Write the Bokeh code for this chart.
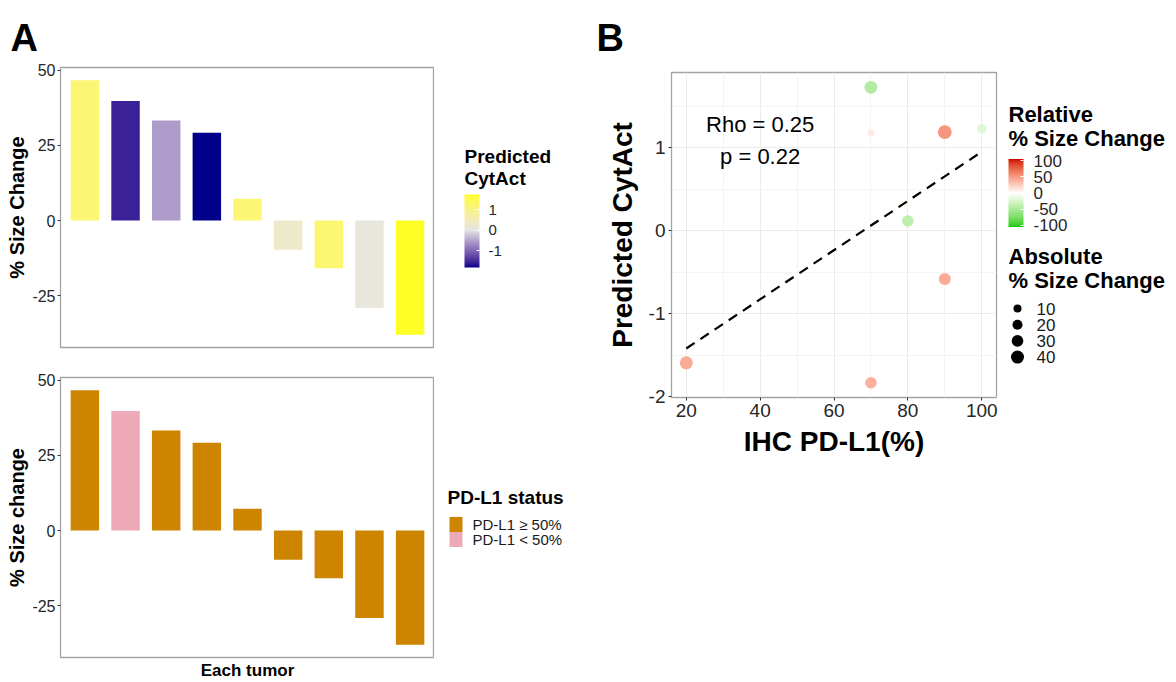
import numpy as np
from bokeh.plotting import figure
from bokeh.models import (Range1d, FixedTicker, LinearColorMapper, ColorBar, Label,
                          ColumnDataSource, AllLabels)
from bokeh.transform import factor_cmap
from bokeh.layouts import row, column
from bokeh.embed import file_html
from bokeh.resources import INLINE
from bokeh.core.properties import value

# ---------------- data (one entry per tumor, waterfall order) ----------------
tumor_index = [1, 2, 3, 4, 5, 6, 7, 8, 9]
size_change = [46.7, 39.8, 33.3, 29.2, 7.3, -9.7, -15.9, -29.1, -38.0]
predicted_cytact = [1.19, -1.59, -0.58, -1.83, 1.18, 0.31, 1.23, 0.12, 1.73]
ihc_pdl1 = [90, 20, 90, 70, 70, 80, 100, 80, 70]
relative_size_change = [52, 42, 42, 40, 10, -5, -21, -40, -46]
status_levels = ["PD-L1 \u2265 50%", "PD-L1 < 50%"]
status_colors = ["#CD8500", "#EEA9B8"]

pct_ticks = [-25, 0, 25, 50]
cytact_legend_ticks = [-1, 0, 1]
pdl1_ticks = [20, 40, 60, 80, 100]
pdl1_minor = [30, 50, 70, 90]
cytB_ticks = [-2, -1, 0, 1]
cytB_minor = [-1.5, -0.5, 0.5, 1.5]
rel_ticks = [-100, -50, 0, 50, 100]
rel_limit = 106
abs_size_breaks = [10, 20, 30, 40]
rho_text = "Rho = 0.25"
p_text = "p = 0.22"
panel_tags = ["A", "B"]

FONT = "Liberation Sans"
HEAD = 62  # height of the strip holding the panel tags


def plain_minus(ticks):
    return {t: str(t) for t in ticks}


# ---------------- colour helpers (Lab interpolation like ggplot) -------------
def _hex2rgb(h):
    h = h.lstrip("#")
    return [int(h[i:i + 2], 16) / 255 for i in (0, 2, 4)]


def _to_lab(h):
    rgb = [c / 12.92 if c <= 0.04045 else ((c + 0.055) / 1.055) ** 2.4 for c in _hex2rgb(h)]
    r, g, b = rgb
    X = (0.4124 * r + 0.3576 * g + 0.1805 * b) / 0.95047
    Y = 0.2126 * r + 0.7152 * g + 0.0722 * b
    Z = (0.0193 * r + 0.1192 * g + 0.9505 * b) / 1.08883
    f = lambda t: t ** (1 / 3) if t > 0.008856 else 7.787 * t + 16 / 116
    return (116 * f(Y) - 16, 500 * (f(X) - f(Y)), 200 * (f(Y) - f(Z)))


def _from_lab(L, a, b):
    fy = (L + 16) / 116
    fx = fy + a / 500
    fz = fy - b / 200
    inv = lambda t: t ** 3 if t ** 3 > 0.008856 else (t - 16 / 116) / 7.787
    X, Y, Z = inv(fx) * 0.95047, inv(fy), inv(fz) * 1.08883
    r = 3.2406 * X - 1.5372 * Y - 0.4986 * Z
    g = -0.9689 * X + 1.8758 * Y + 0.0415 * Z
    bb = 0.0557 * X - 0.2040 * Y + 1.0570 * Z
    out = []
    for c in (r, g, bb):
        c = 12.92 * c if c <= 0.0031308 else 1.055 * c ** (1 / 2.4) - 0.055
        out.append(int(round(min(max(c, 0), 1) * 255)))
    return "#%02x%02x%02x" % tuple(out)


def gradient2(low, mid, high, n=255):
    lo, mi, hi = _to_lab(low), _to_lab(mid), _to_lab(high)
    pal = []
    for t in np.linspace(-1, 1, n):
        a, b = (mi, lo) if t < 0 else (mi, hi)
        s = abs(t)
        pal.append(_from_lab(*[a[k] + (b[k] - a[k]) * s for k in range(3)]))
    return pal


cyt_max = max(abs(v) for v in predicted_cytact)
mapperA = LinearColorMapper(palette=gradient2("#00008B", "#E5E5E5", "#FFFF00"),
                            low=-cyt_max, high=cyt_max)
mapperB = LinearColorMapper(palette=gradient2("#00CD00", "#FFFFFF", "#CD0000"),
                            low=-rel_limit, high=rel_limit)

abs_change = [abs(v) for v in size_change]
s_lo, s_hi = np.sqrt(min(abs_change)), np.sqrt(max(abs_change))


def size_px(v):
    return 7.3 + (np.sqrt(v) - s_lo) / (s_hi - s_lo) * 6.5


status = [status_levels[0] if v >= 50 else status_levels[1] for v in ihc_pdl1]

src = ColumnDataSource(dict(
    idx=tumor_index, change=size_change, cyt=predicted_cytact, pdl1=ihc_pdl1,
    rel=relative_size_change, status=status, sz=[size_px(v) for v in abs_change]))


def txt(f, x, y, s, size, bold=False, color="#1a1a1a", baseline="middle"):
    f.text(x=[x], y=[y], text=[s], text_font=value(FONT), text_font_size=size,
           text_font_style=("bold" if bold else "normal"), text_color=color,
           text_baseline=baseline, text_align="left")


def blank_fig(w, h, xr, yr, top=0, bottom=0):
    # figure whose data units equal page pixels (used for legends / tags)
    f = figure(width=w, height=h, x_range=Range1d(*xr), y_range=Range1d(*yr),
               x_axis_location=None, y_axis_location=None,
               min_border_left=0, min_border_right=0, min_border_top=top,
               min_border_bottom=bottom, toolbar_location=None, output_backend="svg")
    f.grid.visible = False
    f.outline_line_color = None
    return f


# ---------------- header with panel tags ---------------------------------------
head = blank_fig(1176, HEAD, (0, 1176), (HEAD, 0))
txt(head, 10, 37.5, panel_tags[0], "38px", True, "black", "alphabetic")
txt(head, 596, 37.5, panel_tags[1], "38px", True, "black", "alphabetic")


# ---------------- panel A ------------------------------------------------------
def bar_fig(height, top, bottom, xaxis):
    lo = min(min(size_change), 0)
    hi = max(max(size_change), 0)
    pad = 0.05 * (hi - lo)
    p = figure(width=434, height=height, x_range=Range1d(0.4, 9.6),
               y_range=Range1d(lo - pad, hi + pad),
               x_axis_location=("below" if xaxis else None),
               min_border_left=60, min_border_right=0, min_border_top=top,
               min_border_bottom=bottom, toolbar_location=None, output_backend="svg")
    p.xgrid.visible = False
    p.ygrid.visible = False
    p.outline_line_color = "#A3A3A3"
    p.outline_line_width = 1.3
    ax = p.yaxis[0]
    ax.ticker = FixedTicker(ticks=pct_ticks)
    ax.major_label_overrides = plain_minus(pct_ticks)
    ax.axis_line_color = None
    ax.major_tick_out = 3
    ax.major_tick_in = 0
    ax.minor_tick_out = 0
    ax.minor_tick_in = 0
    ax.major_tick_line_color = "#333333"
    ax.major_label_text_font = FONT
    ax.major_label_text_font_size = "16px"
    ax.major_label_text_color = "#262626"
    ax.major_label_standoff = 2
    ax.axis_label_text_font = FONT
    ax.axis_label_text_font_style = "bold"
    ax.axis_label_text_font_size = "20px"
    ax.axis_label_text_color = "black"
    ax.axis_label_standoff = 1
    return p


pA1 = bar_fig(360 - HEAD, 67 - HEAD, 13, False)
pA1.yaxis.axis_label = "% Size Change"
pA1.vbar(x="idx", top="change", width=0.7, source=src,
         fill_color={"field": "cyt", "transform": mapperA}, line_color=None)

pA2 = bar_fig(322, 17, 25, True)
pA2.yaxis.axis_label = "% Size change"
xa = pA2.xaxis[0]
xa.ticker = FixedTicker(ticks=[])
xa.major_label_text_font_size = "0px"
xa.major_tick_out = 0
xa.minor_tick_out = 0
xa.axis_line_color = None
xa.major_label_standoff = 0
xa.axis_label = "Each tumor"
xa.axis_label_text_font = FONT
xa.axis_label_text_font_style = "bold"
xa.axis_label_text_font_size = "17px"
xa.axis_label_text_color = "black"
xa.axis_label_standoff = 3
pA2.vbar(x="idx", top="change", width=0.7, source=src,
         fill_color=factor_cmap("status", palette=status_colors, factors=status_levels),
         line_color=None)

# legend for the top bar chart (page coordinates; frame = 67..347)
legA1 = blank_fig(156, 360 - HEAD, (434, 590), (347, 67), top=67 - HEAD, bottom=13)
txt(legA1, 464, 156, "Predicted", "19px", True, "black")
txt(legA1, 464, 178, "CytAct", "19px", True, "black")
cbA = ColorBar(color_mapper=mapperA, orientation="vertical", width=15, height=73,
               location=(30, 347 - 267), padding=0,
               display_low=min(predicted_cytact), display_high=max(predicted_cytact),
               ticker=FixedTicker(ticks=cytact_legend_ticks),
               major_label_overrides=plain_minus(cytact_legend_ticks),
               major_label_policy=AllLabels(),
               major_label_text_font=FONT, major_label_text_font_size="15px",
               major_label_text_color="#262626", label_standoff=9,
               major_tick_line_color="white", major_tick_in=3, major_tick_out=0,
               bar_line_color=None, border_line_color=None, background_fill_color=None)
legA1.add_layout(cbA, "center")

# legend for the bottom bar chart (page coordinates; frame = 377..657)
legA2 = blank_fig(156, 322, (434, 590), (657, 377), top=17, bottom=25)
txt(legA2, 447, 497, "PD-L1 status", "19px", True, "black")
for k, (lab, col) in enumerate(zip(status_levels, status_colors)):
    legA2.quad(left=[449], right=[462], top=[516.5 + 15 * k], bottom=[531.5 + 15 * k],
               fill_color=col, line_color=None)
    txt(legA2, 472, 524 + 15 * k, lab, "15px", False, "#1a1a1a")

# ---------------- panel B ------------------------------------------------------
xlo, xhi = min(ihc_pdl1), max(ihc_pdl1)
ylo, yhi = min(predicted_cytact), max(predicted_cytact)
xp, yp = 0.05 * (xhi - xlo), 0.05 * (yhi - ylo)
pB = figure(width=410, height=682 - HEAD, x_range=Range1d(xlo - xp, xhi + xp),
            y_range=Range1d(ylo - yp, yhi + yp),
            min_border_left=81, min_border_right=4, min_border_top=72 - HEAD,
            min_border_bottom=285, toolbar_location=None, output_backend="svg")
pB.outline_line_color = "#A3A3A3"
pB.outline_line_width = 1.3
pB.xaxis.ticker = FixedTicker(ticks=pdl1_ticks, minor_ticks=pdl1_minor)
pB.yaxis.ticker = FixedTicker(ticks=cytB_ticks, minor_ticks=cytB_minor)
pB.yaxis.major_label_overrides = plain_minus(cytB_ticks)
for g in (pB.xgrid[0], pB.ygrid[0]):
    g.grid_line_color = "#EBEBEB"
    g.grid_line_width = 1
    g.minor_grid_line_color = "#F4F4F4"
    g.minor_grid_line_width = 1
for ax in (pB.xaxis[0], pB.yaxis[0]):
    ax.axis_line_color = None
    ax.major_tick_out = 3
    ax.major_tick_in = 0
    ax.minor_tick_out = 0
    ax.minor_tick_in = 0
    ax.major_tick_line_color = "#333333"
    ax.major_label_text_font = FONT
    ax.major_label_text_font_size = "19px"
    ax.major_label_text_color = "#262626"
    ax.major_label_standoff = 3
    ax.axis_label_text_font = FONT
    ax.axis_label_text_font_style = "bold"
    ax.axis_label_text_font_size = "28px"
    ax.axis_label_text_color = "black"
pB.xaxis.axis_label = "IHC PD-L1(%)"
pB.yaxis.axis_label = "Predicted CytAct"
pB.xaxis.axis_label_standoff = 6
pB.yaxis.axis_label_standoff = 8

pB.scatter(x="pdl1", y="cyt", size="sz", source=src,
           fill_color={"field": "rel", "transform": mapperB}, line_color=None)
slope, intercept = np.polyfit(ihc_pdl1, predicted_cytact, 1)
fx = [min(ihc_pdl1), max(ihc_pdl1)]
pB.line(x=fx, y=[slope * v + intercept for v in fx], line_color="black",
        line_width=2.2, line_dash="10 7")
pB.add_layout(Label(x=40, y=1.28, text=rho_text, text_font=FONT, text_font_size="22px",
                    text_align="center", text_baseline="middle", text_color="black"))
pB.add_layout(Label(x=40, y=0.9, text=p_text, text_font=FONT, text_font_size="22px",
                    text_align="center", text_baseline="middle", text_color="black"))

# legends for panel B (page coordinates; frame = 72..397)
legB = blank_fig(176, 682 - HEAD, (1000, 1176), (397, 72), top=72 - HEAD, bottom=285)
txt(legB, 1008, 114, "Relative", "22px", True, "black")
txt(legB, 1008, 138, "% Size Change", "22px", True, "black")
cbB = ColorBar(color_mapper=mapperB, orientation="vertical", width=15, height=68,
               location=(8, 397 - 226.5), padding=0,
               ticker=FixedTicker(ticks=rel_ticks),
               major_label_overrides=plain_minus(rel_ticks),
               major_label_policy=AllLabels(),
               major_label_text_font=FONT, major_label_text_font_size="17px",
               major_label_text_color="#262626", label_standoff=10,
               major_tick_line_color="white", major_tick_in=3, major_tick_out=0,
               bar_line_color=None, border_line_color=None, background_fill_color=None)
legB.add_layout(cbB, "center")
txt(legB, 1008, 256, "Absolute", "22px", True, "black")
txt(legB, 1008, 280, "% Size Change", "22px", True, "black")
for k, b in enumerate(abs_size_breaks):
    yk = 308 + 16.2 * k
    legB.scatter(x=[1017], y=[yk], size=size_px(b), fill_color="black", line_color=None)
    txt(legB, 1036, yk, str(b), "17px", False, "#1a1a1a")

layout = column(head, row(column(row(pA1, legA1), row(pA2, legA2)), pB, legB))
open("out.html", "w").write(file_html(layout, INLINE))
